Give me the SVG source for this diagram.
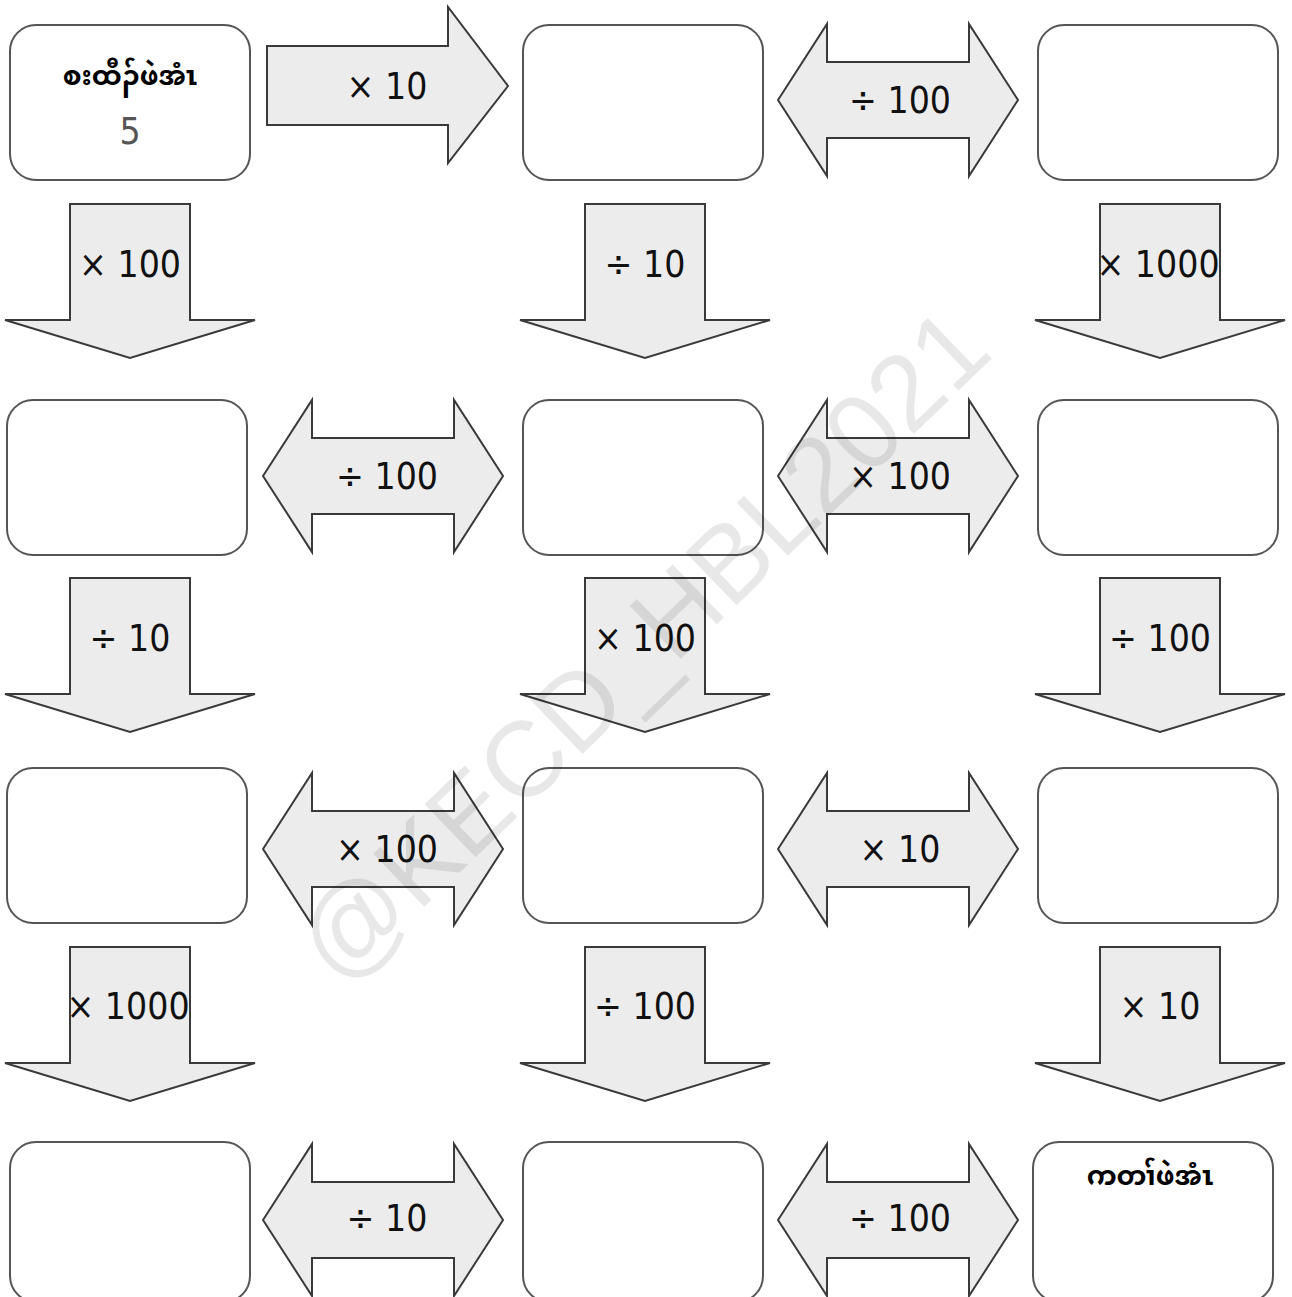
<svg xmlns="http://www.w3.org/2000/svg" width="1292" height="1297" viewBox="0 0 1292 1297">
<defs>
<style>
.box{fill:#fff;stroke:#555;stroke-width:2}
.arr{fill:#ececec;stroke:#3a3a3a;stroke-width:2;stroke-linejoin:miter}
.lbl{font-family:"DejaVu Sans Condensed","DejaVu Sans",sans-serif;font-size:37px;fill:#111;text-anchor:middle;dominant-baseline:central}
.my{font-family:"Noto Sans Myanmar","Padauk","Myanmar Text","DejaVu Sans",sans-serif;font-size:27px;fill:#000;text-anchor:middle;dominant-baseline:central;font-weight:bold}
.wm{font-family:"Liberation Sans",sans-serif;font-size:107px;fill:#000;fill-opacity:0.09;text-anchor:middle;dominant-baseline:central}
</style>
<path id="down" d="M-60,0 H60 V116 H125 L0,154 L-125,116 H-60 Z"/>
<path id="dbl" d="M-120,0 L-71,-76 V-38 H71 V-76 L120,0 L71,76 V38 H-71 V76 Z"/>
</defs>

<g id="connectors">
<g id="a-r1-right"><path class="arr" d="M267,46 H448 V7 L508,86 L448,163 V125 H267 Z"/><text class="lbl" x="387" y="86">× 10</text></g>
<g id="a-r1-dbl"><use href="#dbl" class="arr" x="898" y="100"/><text class="lbl" x="900" y="100">÷ 100</text></g>

<g id="a-r2-c1"><use href="#down" class="arr" x="130" y="204"/><text class="lbl" x="130" y="264">× 100</text></g>
<g id="a-r2-c2"><use href="#down" class="arr" x="645" y="204"/><text class="lbl" x="645" y="264">÷ 10</text></g>
<g id="a-r2-c3"><use href="#down" class="arr" x="1160" y="204"/><text class="lbl" x="1158" y="264">× 1000</text></g>

<g id="a-r3-dbl1"><use href="#dbl" class="arr" x="383" y="476"/><text class="lbl" x="387" y="476">÷ 100</text></g>
<g id="a-r3-dbl2"><use href="#dbl" class="arr" x="898" y="476"/><text class="lbl" x="900" y="476">× 100</text></g>

<g id="a-r4-c1"><use href="#down" class="arr" x="130" y="578"/><text class="lbl" x="130" y="638">÷ 10</text></g>
<g id="a-r4-c2"><use href="#down" class="arr" x="645" y="578"/><text class="lbl" x="645" y="638">× 100</text></g>
<g id="a-r4-c3"><use href="#down" class="arr" x="1160" y="578"/><text class="lbl" x="1160" y="638">÷ 100</text></g>

<g id="a-r5-dbl1"><use href="#dbl" class="arr" x="383" y="849"/><text class="lbl" x="387" y="849">× 100</text></g>
<g id="a-r5-dbl2"><use href="#dbl" class="arr" x="898" y="849"/><text class="lbl" x="900" y="849">× 10</text></g>

<g id="a-r6-c1"><use href="#down" class="arr" x="130" y="947"/><text class="lbl" x="128" y="1006">× 1000</text></g>
<g id="a-r6-c2"><use href="#down" class="arr" x="645" y="947"/><text class="lbl" x="645" y="1006">÷ 100</text></g>
<g id="a-r6-c3"><use href="#down" class="arr" x="1160" y="947"/><text class="lbl" x="1160" y="1006">× 10</text></g>

<g id="a-r7-dbl1"><use href="#dbl" class="arr" x="383" y="1220"/><text class="lbl" x="387" y="1218">÷ 10</text></g>
<g id="a-r7-dbl2"><use href="#dbl" class="arr" x="898" y="1220"/><text class="lbl" x="900" y="1218">÷ 100</text></g>
</g>

<g id="n-start"><rect class="box" x="10" y="25" width="240" height="155" rx="26"/><text class="my" x="130" y="78">စးထီၣ်ဖဲအံၤ</text><text class="lbl" x="130" y="131" style="fill:#555">5</text></g>
<g id="n-r1c2"><rect class="box" x="523" y="25" width="240" height="155" rx="26"/></g>
<g id="n-r1c3"><rect class="box" x="1038" y="25" width="240" height="155" rx="26"/></g>

<g id="n-r3c1"><rect class="box" x="7" y="400" width="240" height="155" rx="26"/></g>
<g id="n-r3c2"><rect class="box" x="523" y="400" width="240" height="155" rx="26"/></g>
<g id="n-r3c3"><rect class="box" x="1038" y="400" width="240" height="155" rx="26"/></g>

<g id="n-r5c1"><rect class="box" x="7" y="768" width="240" height="155" rx="26"/></g>
<g id="n-r5c2"><rect class="box" x="523" y="768" width="240" height="155" rx="26"/></g>
<g id="n-r5c3"><rect class="box" x="1038" y="768" width="240" height="155" rx="26"/></g>

<g id="n-r7c1"><rect class="box" x="10" y="1142" width="240" height="160" rx="26"/></g>
<g id="n-r7c2"><rect class="box" x="523" y="1142" width="240" height="160" rx="26"/></g>
<g id="n-end"><rect class="box" x="1033" y="1142" width="240" height="160" rx="26"/><text class="my" x="1150" y="1178">ကတၢ်ဖဲအံၤ</text></g>

<text class="wm" transform="translate(642 645) rotate(-44)">@KECD_HBL2021</text>
</svg>
